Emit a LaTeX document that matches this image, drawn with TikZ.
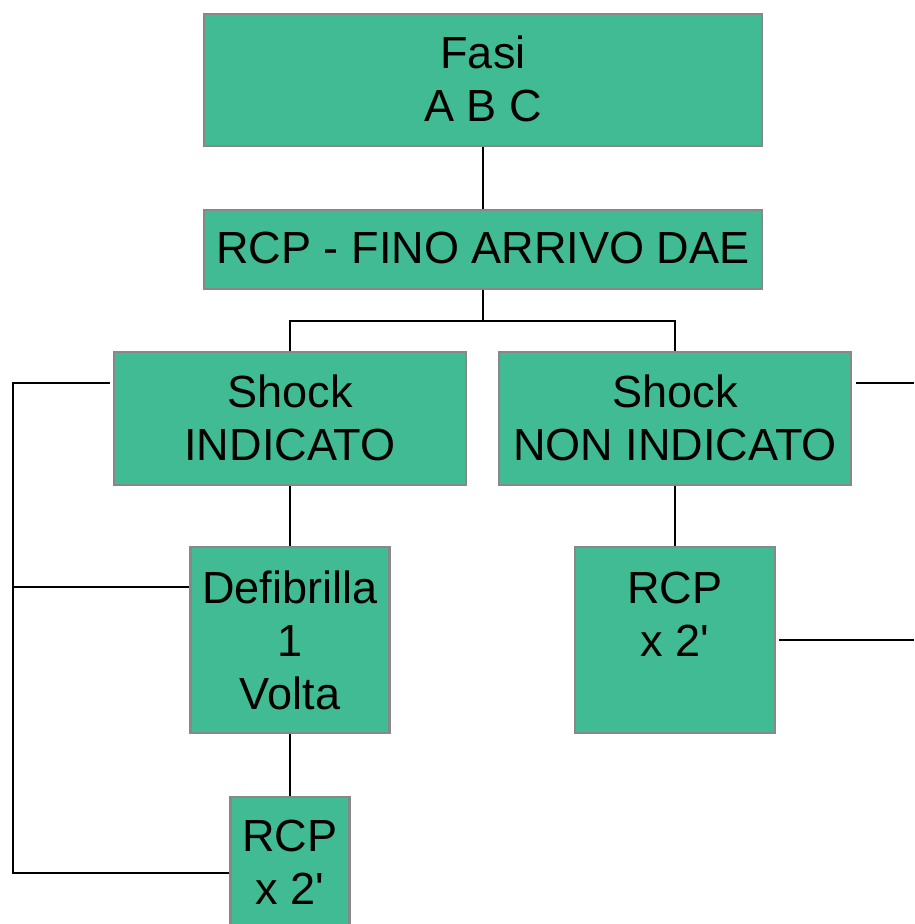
\documentclass[tikz,border=0pt]{standalone}
\usepackage{fontspec}
\setmainfont{Liberation Sans}
\usetikzlibrary{calc}
\definecolor{boxgreen}{RGB}{65,187,147}
\definecolor{boxborder}{RGB}{136,136,136}
\begin{document}
\begin{tikzpicture}[x=0.75pt,y=-0.75pt,
  box/.style={draw=boxborder, line width=2.2pt, fill=boxgreen, rectangle, inner sep=0pt},
  txt/.style={anchor=north, align=center, inner sep=0pt, font=\fontsize{33.8}{39.5}\selectfont},
  conn/.style={line width=1.5pt, black}]
\useasboundingbox (0,0) rectangle (914,924);
\clip (0,0) rectangle (914,924);

% boxes
\node[box, minimum width=418.5pt, minimum height=99pt]   (fasi) at (483,80) {};
\node[box, minimum width=418.5pt, minimum height=59.25pt] (fino) at (483,249.5) {};
\node[box, minimum width=264pt, minimum height=99.75pt]  (si)   at (290,418.5) {};
\node[box, minimum width=264pt, minimum height=99.75pt]  (sni)  at (675,418.5) {};
\node[box, minimum width=149.25pt, minimum height=139.5pt] (defi) at (290,640) {};
\node[box, minimum width=150pt, minimum height=139.5pt]  (rcpa) at (675,640) {};
\node[box, minimum width=89.25pt, minimum height=139.5pt] (rcpb) at (290,890) {};

% texts
\node[txt] (fasiT) at ($(fasi.north)+(0,19)$) {\strut Fasi\\A B C};
\node[txt] (finoT) at ($(fino.north)+(0,18)$) {\strut RCP - FINO ARRIVO DAE};
\node[txt] (siT)   at ($(si.north)+(0,20)$)   {\strut Shock\\INDICATO};
\node[txt] (sniT)  at ($(sni.north)+(0,20)$)  {\strut Shock\\NON INDICATO};
\node[txt] (defiT) at ($(defi.north)+(0,21)$) {\strut Defibrilla\\1\\Volta};
\node[txt] (rcpaT) at ($(rcpa.north)+(0,21)$) {\strut RCP\\x 2\textquotesingle};
\node[txt] (rcpbT) at ($(rcpb.north)+(0,19)$) {\strut RCP\\x 2\textquotesingle};

% connector coordinates
\coordinate (j1) at (483,321);
\coordinate (ls) at (110,383);
\coordinate (lt) at (13,383);
\coordinate (lm) at (13,587);
\coordinate (lb) at (13,873);
\coordinate (r1s) at (856,383);
\coordinate (r1e) at (914,383);
\coordinate (r2s) at (779,640);
\coordinate (r2e) at (914,640);

% connectors
\draw[conn] (fasi.south) -- (fino.north);
\draw[conn] (fino.south) -- (j1) -| (si.north);
\draw[conn] (j1) -| (sni.north);
\draw[conn] (si.south) -- (defi.north);
\draw[conn] (defi.south) -- (rcpb.north);
\draw[conn] (sni.south) -- (rcpa.north);
\draw[conn] (ls) -- (lt) -- (lb) -- (lb -| rcpb.west);
\draw[conn] (lm) -- (lm -| defi.west);
\draw[conn] (r1s) -- (r1e);
\draw[conn] (r2s) -- (r2e);
\end{tikzpicture}
\end{document}
